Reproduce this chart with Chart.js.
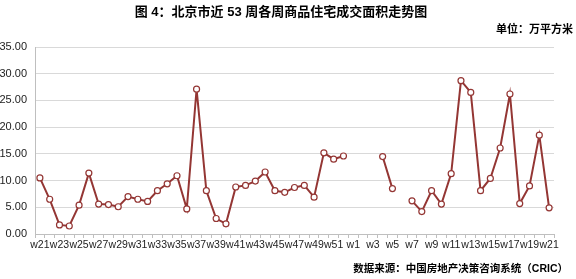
<!DOCTYPE html>
<html>
<head>
<meta charset="utf-8">
<script src="https://cdn.jsdelivr.net/npm/chart.js@4"></script>
<style>
  html, body { margin: 0; padding: 0; background: #fff; }
  #wrap { position: relative; width: 576px; height: 279px; overflow: hidden; }
  .txt { position: absolute; font-family: "Liberation Sans", "Noto Sans CJK SC", sans-serif; font-weight: bold; color: #000; white-space: nowrap; line-height: 1; }
  #title { top: 5px; left: 281px; transform: translateX(-50%); font-size: 13px; }
  #unit { top: 24px; right: 3px; font-size: 11px; }
  #source { top: 263px; right: 8px; font-size: 10.5px; }
  canvas { position: absolute; left: 0; top: 0; }
</style>
</head>
<body>
<div id="wrap">
  <canvas id="trendChart" width="576" height="279"></canvas>
  <div class="txt" id="title">图 4：北京市近 53 周各周商品住宅成交面积走势图</div>
  <div class="txt" id="unit">单位：万平方米</div>
  <div class="txt" id="source">数据来源：中国房地产决策咨询系统（CRIC）</div>
</div>
<script>
// week labels: w21..w52 of last year, then w1..w21
const weeks = [
    'w21', 'w22', 'w23', 'w24', 'w25', 'w26', 'w27', 'w28', 'w29', 'w30',
    'w31', 'w32', 'w33', 'w34', 'w35', 'w36', 'w37', 'w38', 'w39', 'w40',
    'w41', 'w42', 'w43', 'w44', 'w45', 'w46', 'w47', 'w48', 'w49', 'w50',
    'w51', 'w52',
    'w1', 'w2', 'w3', 'w4', 'w5', 'w6', 'w7', 'w8', 'w9', 'w10',
    'w11', 'w12', 'w13', 'w14', 'w15', 'w16', 'w17', 'w18', 'w19', 'w20', 'w21'
];

// 成交面积 (万平方米), null = no data that week
const area = [
    10.5, 6.5, 1.7, 1.5, 5.4, 11.4, 5.6, 5.5, 5.1, 7.0,
    6.5, 6.1, 8.1, 9.4, 10.9, 4.7, 27.1, 8.1, 2.9, 1.9,
    8.8, 9.1, 9.9, 11.6, 8.1, 7.8, 8.7, 9.1, 6.9, 15.2,
    14.0, 14.6,
    null, null, null, 14.5, 8.5, null, 6.2, 4.2, 8.1, 5.6,
    11.3, 28.7, 26.5, 8.1, 10.4, 16.1, 26.2, 5.7, 9.0, 18.5, 4.9
];

const yTicks = [0, 5, 10, 15, 20, 25, 30, 35];

const lineColor = '#943634';
const axisColor = '#bfbfbf';
const tickFont = { family: '"Liberation Sans", Arial, sans-serif', size: 10.5 };

const ctx = document.getElementById('trendChart').getContext('2d');

new Chart(ctx, {
    type: 'line',
    data: {
        labels: weeks,
        datasets: [{
            label: '成交面积',
            data: area,
            borderColor: lineColor,
            borderWidth: 2,
            backgroundColor: '#ffffff',
            pointBackgroundColor: '#ffffff',
            pointBorderColor: lineColor,
            pointBorderWidth: 1.2,
            pointRadius: 3,
            spanGaps: false,
            tension: 0
        }]
    },
    options: {
        responsive: false,
        animation: false,
        layout: { padding: { top: 47, right: 22, bottom: 25, left: 0 } },
        plugins: {
            legend: { display: false },
            tooltip: { enabled: false }
        },
        scales: {
            x: {
                offset: true,
                grid: { offset: true, drawOnChartArea: false, tickLength: 4, color: axisColor },
                border: { color: axisColor },
                ticks: {
                    autoSkip: false,
                    maxRotation: 0,
                    padding: 1,
                    color: '#222',
                    font: tickFont,
                    callback: function (value, index) {
                        return index % 2 === 0 ? this.getLabelForValue(value) : '';
                    }
                },
                afterFit: scale => { scale.height = 20; }
            },
            y: {
                min: 0,
                max: 35,
                afterBuildTicks: scale => { scale.ticks = yTicks.map(v => ({ value: v })); },
                grid: { color: '#d9d9d9', drawTicks: false },
                border: { color: axisColor },
                ticks: {
                    padding: 8,
                    color: '#222',
                    font: { family: '"Liberation Sans", Arial, sans-serif', size: 11 },
                    callback: value => Number(value).toFixed(2)
                },
                afterFit: scale => { scale.width = 35; }
            }
        }
    }
});
</script>
</body>
</html>
